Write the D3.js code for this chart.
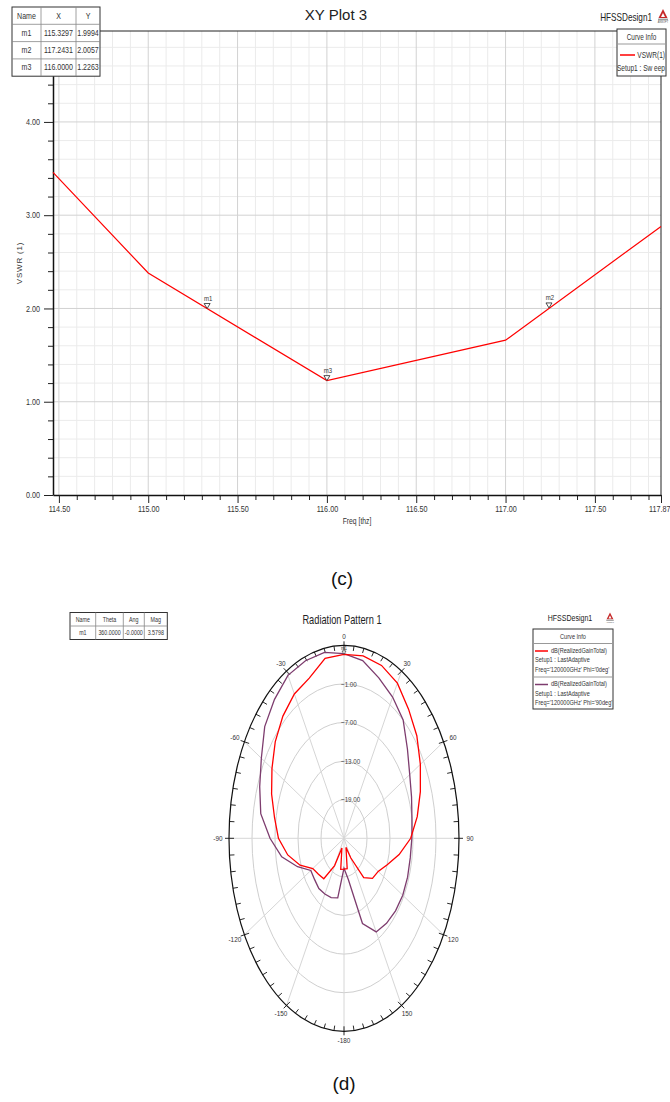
<!DOCTYPE html>
<html><head><meta charset="utf-8">
<script src="https://cdn.jsdelivr.net/npm/d3@7"></script>
<style>
body{margin:0;background:#fff;}
svg{display:block;font-family:"Liberation Sans",Arial,sans-serif;}
</style></head><body>
<svg id="chart" width="670" height="1102"></svg>
<script>
// ---------- (c) VSWR sweep ----------
const freqs = [114.467, 115.0, 116.0, 117.0, 117.87];
const vswr = [3.46, 2.38, 1.2263, 1.66, 2.88];
const freqMajorTicks = [114.5, 115.0, 115.5, 116.0, 116.5, 117.0, 117.5, 117.87];
const freqMinorTicks = [114.6, 114.7, 114.8, 114.9, 115.1, 115.2, 115.3, 115.4, 115.6, 115.7, 115.8, 115.9,
  116.1, 116.2, 116.3, 116.4, 116.6, 116.7, 116.8, 116.9, 117.1, 117.2, 117.3, 117.4, 117.6, 117.7, 117.8];
const vswrMajorTicks = [0, 1, 2, 3, 4];
const vswrMinorTicks = [0.2, 0.4, 0.6, 0.8, 1.2, 1.4, 1.6, 1.8, 2.2, 2.4, 2.6, 2.8, 3.2, 3.4, 3.6, 3.8, 4.2, 4.4, 4.6, 4.8];
const markerNames = ["m1", "m2", "m3"];
const markerFreq = [115.3297, 117.2431, 116.0000];
const markerVswr = [1.9994, 2.0057, 1.2263];

// ---------- (d) radiation pattern ----------
const thetaDeg = [-180, -170, -160, -150, -140, -130, -120, -110, -100, -90, -80, -70, -60, -50, -40, -30, -20, -10,
  0, 10, 20, 30, 40, 50, 60, 70, 80, 90, 100, 110, 120, 130, 140, 150, 160, 170];
const gainPhi0 = [-20.2, -20.1, -23.4, -20.1, -16.8, -16.3, -15.6, -12.8, -10.1, -7.9, -6.6, -4.9, -3.3, -1.6, -0.2, 0.9, 1.5, 3.4,
  3.58, 3.78, 3.6, 2.85, 1.2, -0.2, -2.0, -3.8, -5.6, -7.6, -10.4, -13.0, -14.7, -15.3, -17.0, -21.5, -23.5, -20.2];
const gainPhi90 = [-20.35, -15.6, -15.2, -15.0, -14.8, -15.0, -15.0, -12.1, -8.5, -5.7, -2.95, -1.6, -0.1, 2.0, 3.2, 4.25, 4.37, 4.34,
  3.7, 3.05, 1.55, 0.35, -1.0, -3.4, -5.2, -6.25, -7.0, -7.3, -7.45, -7.35, -7.3, -7.45, -7.75, -8.2, -10.9, -18.5];
const ringValues = [-1, -7, -13, -19];
const angleLabels = [0, 30, 60, 90, 120, 150, -180, -150, -120, -90, -60, -30];

const svg = d3.select("#chart");
const fmt2 = d3.format(".2f");

// condensed text helper: squeeze horizontally around the anchor point
function condense(sel, k) {
  sel.each(function () {
    const t = d3.select(this);
    const x = +t.attr("x") || 0;
    t.attr("x", x / k).attr("transform", `scale(${k},1)`);
  });
}
function label(g, x, y, str, size, k, anchor, fill) {
  const t = g.append("text").attr("x", x).attr("y", y).attr("font-size", size)
    .attr("text-anchor", anchor || "start").attr("fill", fill || "#333").text(str);
  if (k && k !== 1) condense(t, k);
  return t;
}

// ======= XY plot =======
const plot = {left: 53, right: 661, top: 31, bottom: 495};
const x = d3.scaleLinear().domain([114.467, 117.87]).range([plot.left, plot.right]);
const y = d3.scaleLinear().domain([0, 4.975]).range([plot.bottom, plot.top]);

const grid = svg.append("g");
grid.selectAll(".vmin").data(freqMinorTicks).join("line")
  .attr("x1", d => x(d)).attr("x2", d => x(d)).attr("y1", plot.top).attr("y2", plot.bottom)
  .attr("stroke", "#ebebeb").attr("stroke-width", 1);
grid.selectAll(".hmin").data(vswrMinorTicks).join("line")
  .attr("x1", plot.left).attr("x2", plot.right).attr("y1", d => y(d)).attr("y2", d => y(d))
  .attr("stroke", "#ebebeb").attr("stroke-width", 1);
grid.selectAll(".vmaj").data(freqMajorTicks.slice(0, -1)).join("line")
  .attr("x1", d => x(d)).attr("x2", d => x(d)).attr("y1", plot.top).attr("y2", plot.bottom)
  .attr("stroke", "#d2d2d2").attr("stroke-width", 1);
grid.selectAll(".hmaj").data(vswrMajorTicks.slice(1)).join("line")
  .attr("x1", plot.left).attr("x2", plot.right).attr("y1", d => y(d)).attr("y2", d => y(d))
  .attr("stroke", "#d2d2d2").attr("stroke-width", 1);

// frame
svg.append("line").attr("x1", plot.left).attr("x2", plot.right).attr("y1", plot.top).attr("y2", plot.top)
  .attr("stroke", "#222").attr("stroke-width", 1);
svg.append("line").attr("x1", plot.right).attr("x2", plot.right).attr("y1", plot.top).attr("y2", plot.bottom)
  .attr("stroke", "#222").attr("stroke-width", 1);

// axes
const axisStyle = g => {
  g.select(".domain").attr("stroke", "#111").attr("stroke-width", 1.5);
  g.selectAll(".tick line").attr("stroke", "#222");
  g.selectAll(".tick text").attr("fill", "#333").attr("font-size", 8.2)
    .attr("font-family", "'Liberation Sans',Arial,sans-serif");
};
svg.append("g").attr("transform", `translate(0,${plot.bottom})`)
  .call(d3.axisBottom(x).tickValues(freqMinorTicks).tickSize(5).tickFormat("").tickSizeOuter(0))
  .call(g => g.select(".domain").remove())
  .call(g => g.selectAll(".tick line").attr("stroke", "#222"));
svg.append("g").attr("transform", `translate(0,${plot.bottom})`)
  .call(d3.axisBottom(x).tickValues(freqMajorTicks).tickSize(8).tickSizeOuter(0).tickPadding(3).tickFormat(fmt2))
  .call(axisStyle)
  .call(g => condense(g.selectAll(".tick text"), 0.88))
  .call(g => g.selectAll(".tick:last-of-type text").attr("text-anchor", "end").attr("x", 9 / 0.88));
svg.append("g").attr("transform", `translate(${plot.left},0)`)
  .call(d3.axisLeft(y).tickValues(vswrMinorTicks).tickSize(5).tickFormat("").tickSizeOuter(0))
  .call(g => g.select(".domain").remove())
  .call(g => g.selectAll(".tick line").attr("stroke", "#222"));
svg.append("g").attr("transform", `translate(${plot.left},0)`)
  .call(d3.axisLeft(y).tickValues(vswrMajorTicks).tickSize(9).tickSizeOuter(0).tickPadding(4).tickFormat(fmt2))
  .call(axisStyle)
  .call(g => condense(g.selectAll(".tick text"), 0.88));

label(svg, (plot.left + plot.right) / 2, 524, "Freq [thz]", 8.5, 0.8, "middle");
svg.append("text").attr("transform", `translate(22,${(plot.top + plot.bottom) / 2}) rotate(-90)`)
  .attr("text-anchor", "middle").attr("font-size", 8).attr("letter-spacing", 0.8).attr("fill", "#333")
  .text("VSWR (1)");

// curve
const line = d3.line().x((d, i) => x(freqs[i])).y(d => y(d));
svg.append("path").datum(vswr).attr("d", line).attr("fill", "none").attr("stroke", "#ff0000").attr("stroke-width", 1.2);

// markers
markerNames.forEach((n, i) => {
  const px = x(markerFreq[i]), py = y(markerVswr[i]);
  svg.append("path").attr("d", `M${px},${py} L${px - 3},${py - 5} L${px + 3},${py - 5} Z`)
    .attr("fill", "#fff").attr("stroke", "#222").attr("stroke-width", 0.8);
  label(svg, px + 1, py - 8, n, 7.5, 0.8, "middle");
});

// title
svg.append("text").attr("x", 336).attr("y", 20).attr("text-anchor", "middle").attr("font-size", 15)
  .attr("fill", "#222").text("XY Plot 3");
label(svg, 652, 21, "HFSSDesign1", 10.5, 0.78, "end", "#222");

function logo(cx, cy, s) {
  const g = svg.append("g").attr("transform", `translate(${cx},${cy}) scale(${s})`);
  g.append("path").attr("d", "M0,-6 L-4.5,3 L4.5,3 Z").attr("fill", "#c62828");
  g.append("path").attr("d", "M0,-2 L-2,2 L2,2 Z").attr("fill", "#fff");
  g.append("rect").attr("x", -5).attr("y", 3.6).attr("width", 10).attr("height", 1.6).attr("fill", "#9e9e9e");
  g.append("text").attr("x", 0).attr("y", 8).attr("text-anchor", "middle").attr("font-size", 2.6).attr("fill", "#555").text("ANSOFT");
}
logo(663, 15, 1);

// data tables for markers
function table(x0, y0, colW, rowH, rows, fs, k) {
  const g = svg.append("g");
  const W = d3.sum(colW), H = rowH * rows.length;
  g.append("rect").attr("x", x0).attr("y", y0).attr("width", W).attr("height", H)
    .attr("fill", "#fff").attr("stroke", "#333").attr("stroke-width", 1);
  let cx = x0;
  colW.forEach((w, j) => {
    if (j > 0) g.append("line").attr("x1", cx).attr("x2", cx).attr("y1", y0).attr("y2", y0 + H).attr("stroke", "#888").attr("stroke-width", 0.8);
    rows.forEach((r, i) => {
      label(g, cx + w / 2, y0 + rowH * i + rowH / 2 + fs * 0.36, r[j], fs, k, "middle");
    });
    cx += w;
  });
  rows.forEach((r, i) => {
    if (i > 0) g.append("line").attr("x1", x0).attr("x2", x0 + W).attr("y1", y0 + rowH * i).attr("y2", y0 + rowH * i).attr("stroke", "#888").attr("stroke-width", 0.8);
  });
}
table(12, 7, [29, 35, 24], 17.3,
  [["Name", "X", "Y"]].concat(markerNames.map((n, i) => [n, markerFreq[i].toFixed(4), markerVswr[i].toFixed(4)])), 8.2, 0.86);

// legend box
{
  const g = svg.append("g");
  g.append("rect").attr("x", 617).attr("y", 29).attr("width", 49).attr("height", 47).attr("fill", "#fff").attr("stroke", "#333");
  g.append("line").attr("x1", 617).attr("x2", 666).attr("y1", 44).attr("y2", 44).attr("stroke", "#999");
  label(g, 641.5, 40, "Curve Info", 8.2, 0.78, "middle");
  g.append("line").attr("x1", 620).attr("x2", 635).attr("y1", 55).attr("y2", 55).attr("stroke", "#ff0000").attr("stroke-width", 1.5);
  label(g, 665, 58, "VSWR(1)", 8.2, 0.8, "end");
  label(g, 665, 71, "Setup1 : Sw eep", 8.2, 0.8, "end");
}

svg.append("text").attr("x", 342).attr("y", 585).attr("text-anchor", "middle").attr("font-size", 19)
  .attr("fill", "#111").text("(c)");

// ======= Polar plot =======
const P = {cx: 344, cy: 838.3, rx: 115, ry: 193};
const r = d3.scaleLinear().domain([-25, 5]).range([0, 1]);
const toRad = d3.scaleLinear().domain([0, 360]).range([0, 2 * Math.PI]);
const px = (deg, v) => P.cx + P.rx * r(v) * Math.sin(toRad(deg));
const py = (deg, v) => P.cy - P.ry * r(v) * Math.cos(toRad(deg));

const pg = svg.append("g");
// rings
ringValues.forEach(v => {
  pg.append("ellipse").attr("cx", P.cx).attr("cy", P.cy).attr("rx", P.rx * r(v)).attr("ry", P.ry * r(v))
    .attr("fill", "none").attr("stroke", "#cfcfcf").attr("stroke-width", 1);
});
// spokes
angleLabels.forEach(a => {
  pg.append("line").attr("x1", P.cx).attr("y1", P.cy).attr("x2", px(a, 5)).attr("y2", py(a, 5))
    .attr("stroke", "#d6d6d6").attr("stroke-width", 1);
});
// outer ellipse
pg.append("ellipse").attr("cx", P.cx).attr("cy", P.cy).attr("rx", P.rx).attr("ry", P.ry)
  .attr("fill", "none").attr("stroke", "#111").attr("stroke-width", 1.2);
// ticks every 5 degrees, drawn along the ellipse normal
d3.range(0, 360, 5).forEach(a => {
  const major = a % 30 === 0;
  const s = Math.sin(toRad(a)), c = Math.cos(toRad(a));
  const ex = P.cx + P.rx * s, ey = P.cy - P.ry * c;
  const nx = s / P.rx, ny = -c / P.ry, nl = Math.hypot(nx, ny);
  const ux = nx / nl, uy = ny / nl;
  const inL = 5, outL = major ? 4 : 0;
  pg.append("line").attr("x1", ex - ux * inL).attr("y1", ey - uy * inL)
    .attr("x2", ex + ux * outL).attr("y2", ey + uy * outL)
    .attr("stroke", "#111").attr("stroke-width", 0.9);
});
// angle labels
angleLabels.forEach(a => {
  const s = Math.sin(toRad(a)), c = Math.cos(toRad(a));
  label(pg, P.cx + (P.rx + 11) * s, P.cy - (P.ry + 9) * c + 2.7, a, 8, 0.8, "middle", "#333");
});
// ring labels
ringValues.forEach(v => {
  label(pg, P.cx - 3, P.cy - P.ry * r(v) + 2.8, fmt2(v), 8, 0.78, "start", "#444");
});

// gain curves
const curve = vals => d3.line().curve(d3.curveLinearClosed)
  .x((d, i) => px(thetaDeg[i], d)).y((d, i) => py(thetaDeg[i], d))(vals);
pg.append("path").attr("d", curve(gainPhi90)).attr("fill", "none").attr("stroke", "#7d3c6e").attr("stroke-width", 1.3);
pg.append("path").attr("d", curve(gainPhi0)).attr("fill", "none").attr("stroke", "#ff0000").attr("stroke-width", 1.3);

// polar marker m1
const m1Theta = 360, m1Mag = 3.5798;
{
  const mx = px(m1Theta, m1Mag), my = py(m1Theta, m1Mag);
  pg.append("path").attr("d", `M${mx},${my} L${mx - 2},${my - 3.5} L${mx + 2},${my - 3.5} Z`)
    .attr("fill", "#fff").attr("stroke", "#222").attr("stroke-width", 0.6);
  label(pg, mx, my - 4.5, "m1", 5.5, 0.8, "middle");
}

label(svg, 342, 624, "Radiation Pattern 1", 12.5, 0.74, "middle", "#222");

table(70, 612.5, [25.7, 27.6, 21, 23], 13.5, [["Name", "Theta", "Ang", "Mag"], ["m1", "360.0000", "-0.0000", m1Mag.toFixed(4)]], 6.5, 0.82);

label(svg, 570, 621, "HFSSDesign1", 9, 0.78, "middle", "#222");
logo(610, 617, 0.75);

{
  const g = svg.append("g"), fs = 6.6, k = 0.85;
  g.append("rect").attr("x", 533).attr("y", 629).attr("width", 80).attr("height", 80).attr("fill", "#fff").attr("stroke", "#333");
  label(g, 573, 639, "Curve Info", fs, k, "middle");
  g.append("line").attr("x1", 533).attr("x2", 613).attr("y1", 643.5).attr("y2", 643.5).attr("stroke", "#999");
  g.append("line").attr("x1", 533).attr("x2", 613).attr("y1", 677).attr("y2", 677).attr("stroke", "#999");
  const entries = [
    {color: "#ff0000", y: 651, lines: ["Setup1 : LastAdaptive", "Freq='120000GHz' Phi='0deg'"]},
    {color: "#7d3c6e", y: 684.5, lines: ["Setup1 : LastAdaptive", "Freq='120000GHz' Phi='90deg'"]}
  ];
  entries.forEach(e => {
    g.append("line").attr("x1", 535).attr("x2", 548).attr("y1", e.y).attr("y2", e.y).attr("stroke", e.color).attr("stroke-width", 1.5);
    label(g, 551, e.y + 2, "dB(RealizedGainTotal)", fs, k);
    e.lines.forEach((t, j) => label(g, 535, e.y + 11.5 + j * 9.5, t, fs, k));
  });
}

svg.append("text").attr("x", 344).attr("y", 1090).attr("text-anchor", "middle").attr("font-size", 19)
  .attr("fill", "#111").text("(d)");
</script>
</body></html>
